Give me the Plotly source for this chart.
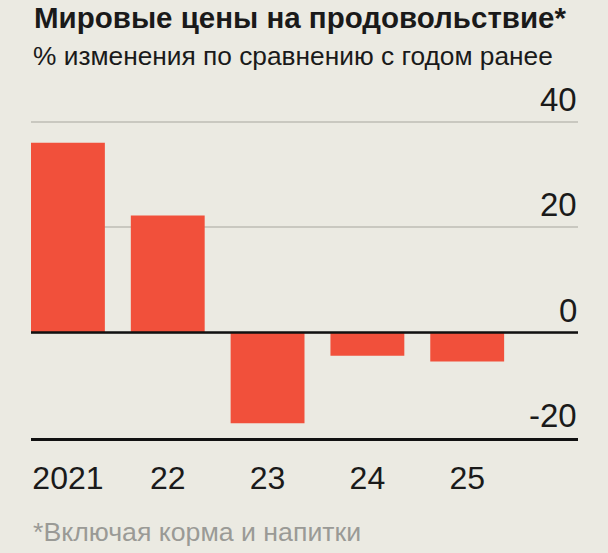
import plotly.graph_objects as go

categories = ["2021", "22", "23", "24", "25"]
values = [36.0, 22.2, -17.2, -4.4, -5.5]
ytick_vals = [-20, 0, 20, 40]
ytick_text = ["-20", "0", "20", "40"]

title = "Мировые цены на продовольствие*"
subtitle = "% изменения по сравнению с годом ранее"
footnote = "*Включая корма и напитки"

BG = "#EBEAE2"
BAR = "#F1503B"
FONT = "Liberation Sans, Arial, sans-serif"

W, H = 608, 553
ML, MR, MT, MB = 31, 30, 111, 115
PH = H - MT - MB


def py(ypx):
    # pixel y -> paper y
    return 1 + (MT - ypx) / PH


fig = go.Figure()
fig.add_trace(go.Bar(
    x=categories, y=values, marker=dict(color=BAR, line=dict(width=0)),
    width=0.74, hoverinfo="skip",
))

fig.add_shape(type="line", xref="paper", yref="y", x0=0, x1=1, y0=0, y1=0,
              line=dict(color="#111111", width=2.5), layer="above")

annotations = []
for v, t in zip(ytick_vals, ytick_text):
    annotations.append(dict(
        text=t, xref="paper", yref="y", x=1, xshift=1, y=v, xanchor="right", yanchor="bottom",
        yshift=2, showarrow=False, font=dict(family=FONT, size=33, color="#1a1a1a"),
    ))
annotations.append(dict(
    text="<b>" + title + "</b>", xref="paper", yref="paper", x=0, xshift=1, y=py(18),
    xanchor="left", yanchor="middle", showarrow=False,
    font=dict(family=FONT, size=29.5, color="#1a1a1a"),
))
annotations.append(dict(
    text=subtitle, xref="paper", yref="paper", x=0, xshift=0, y=py(56),
    xanchor="left", yanchor="middle", showarrow=False,
    font=dict(family=FONT, size=26.3, color="#1a1a1a"),
))
annotations.append(dict(
    text=footnote, xref="paper", yref="paper", x=0, xshift=0, y=py(532),
    xanchor="left", yanchor="middle", showarrow=False,
    font=dict(family=FONT, size=26.7, color="#9a9a96"),
))

fig.update_layout(
    width=W, height=H,
    margin=dict(l=ML, r=MR, t=MT, b=MB),
    paper_bgcolor=BG, plot_bgcolor=BG,
    showlegend=False,
    annotations=annotations,
    bargap=0.26,
    xaxis=dict(
        type="category", range=[-0.37, 5.11],
        showgrid=False, zeroline=False,
        showline=True, linecolor="#111111", linewidth=2.5,
        ticks="", ticklabelstandoff=10,
        tickfont=dict(family=FONT, size=32, color="#1a1a1a"),
        fixedrange=True,
    ),
    yaxis=dict(
        range=[-20, 42], tickvals=ytick_vals, showticklabels=False,
        showgrid=True, gridcolor="#C9C8C0", gridwidth=2,
        zeroline=False, showline=False, fixedrange=True,
    ),
)

fig.write_html(
    "out.html",
    config={"displayModeBar": False},
    post_script="document.body.style.margin='0';document.body.style.background='" + BG + "';",
)
